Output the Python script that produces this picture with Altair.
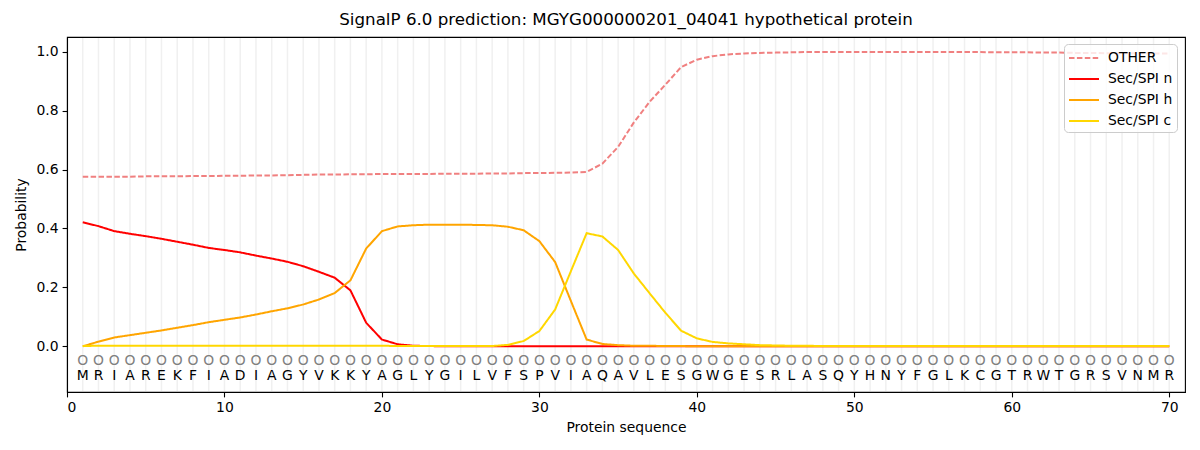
import altair as alt
import pandas as pd

positions = list(range(1, 71))
sequence = "MRIAREKFIADIAGYVKKYAGLYGILVFSPVIAQAVLESGWGESRLASQYHNYFGLKCGTRWTGRSVNMR"

other = [0.576, 0.576, 0.576, 0.576, 0.577, 0.577, 0.577, 0.578, 0.578, 0.579,
         0.579, 0.580, 0.580, 0.581, 0.582, 0.583, 0.583, 0.584, 0.584, 0.585,
         0.585, 0.585, 0.585, 0.586, 0.586, 0.586, 0.587, 0.587, 0.588, 0.588,
         0.589, 0.590, 0.592, 0.620, 0.677, 0.760, 0.830, 0.888, 0.948, 0.973,
         0.985, 0.991, 0.994, 0.996, 0.997, 0.998, 0.999, 0.999, 0.999, 0.999,
         0.999, 0.999, 0.999, 0.999, 0.999, 0.999, 0.999, 0.999, 0.998, 0.998,
         0.998, 0.997, 0.997, 0.996, 0.996, 0.995, 0.995, 0.995, 0.994, 0.994]

sec_n = [0.421, 0.408, 0.391, 0.382, 0.374, 0.365, 0.355, 0.345, 0.334, 0.327,
         0.319, 0.308, 0.298, 0.287, 0.272, 0.253, 0.233, 0.190, 0.080, 0.023,
         0.007, 0.002, 0.001] + [0.0] * 47

sec_h = [0.000, 0.016, 0.030, 0.038, 0.046, 0.054, 0.063, 0.072, 0.082, 0.090,
         0.098, 0.108, 0.119, 0.129, 0.142, 0.159, 0.181, 0.224, 0.332, 0.391,
         0.407, 0.411, 0.413, 0.413, 0.413, 0.412, 0.411, 0.406, 0.394, 0.357,
         0.286, 0.154, 0.023, 0.008, 0.004, 0.002, 0.002, 0.001, 0.001] + [0.0] * 31

sec_c = [0.001, 0.002, 0.002, 0.002, 0.002, 0.002, 0.002, 0.002, 0.002, 0.002,
         0.002, 0.002, 0.002, 0.002, 0.002, 0.002, 0.002, 0.002, 0.002, 0.002,
         0.001, 0.001, 0.001, 0.001, 0.001, 0.001, 0.001, 0.005, 0.018, 0.052,
         0.125, 0.255, 0.384, 0.373, 0.327, 0.247, 0.180, 0.114, 0.053, 0.027,
         0.015, 0.010, 0.007, 0.004, 0.003, 0.002, 0.002, 0.001] + [0.001] * 22

series_names = ["OTHER", "Sec/SPI n", "Sec/SPI h", "Sec/SPI c"]
series_colors = ["#f08080", "#ff0000", "#ffa500", "#ffd700"]
series_dash = [[5.5, 2.4], [1, 0], [1, 0], [1, 0]]

rows = []
for name, vals in zip(series_names, [other, sec_n, sec_h, sec_c]):
    for p, v in zip(positions, vals):
        rows.append({"pos": p, "prob": v, "series": name})
lines_df = pd.DataFrame(rows)
seq_df = pd.DataFrame({"pos": positions, "aa": list(sequence), "circ": ["O"] * len(positions)})

xscale = alt.Scale(domain=[0, 71], nice=False, zero=False)
yscale = alt.Scale(domain=[-0.155, 1.05], nice=False, zero=False)

xaxis = alt.Axis(values=[0, 10, 20, 30, 40, 50, 60, 70], title="Protein sequence", grid=False,
                 labelAngle=0, titlePadding=6)
yaxis = alt.Axis(values=[0.0, 0.2, 0.4, 0.6, 0.8, 1.0], format=".1f", title="Probability", grid=False,
                 titlePadding=8)

grid = alt.Chart(seq_df).mark_rule(color="#f0f0f0", strokeWidth=1.5).encode(
    x=alt.X("pos:Q", scale=xscale, axis=xaxis),
    y=alt.datum(-0.152, scale=yscale),
    y2=alt.datum(1.047),
)

lines = alt.Chart(lines_df).mark_line(strokeWidth=2).encode(
    x=alt.X("pos:Q", scale=xscale, axis=xaxis),
    y=alt.Y("prob:Q", scale=yscale, axis=yaxis),
    color=alt.Color("series:N", scale=alt.Scale(domain=series_names, range=series_colors),
                    legend=alt.Legend(title=None)),
    strokeDash=alt.StrokeDash("series:N", scale=alt.Scale(domain=series_names, range=series_dash),
                              legend=alt.Legend(title=None)),
    order=alt.Order("pos:Q"),
)

circles = alt.Chart(seq_df).mark_text(fontSize=13.9, color="#808080", baseline="middle",
                                      font="DejaVu Sans").encode(
    x=alt.X("pos:Q", scale=xscale),
    y=alt.datum(-0.05),
    text="circ:N",
)

letters = alt.Chart(seq_df).mark_text(fontSize=13.9, color="#000000", baseline="middle",
                                      font="DejaVu Sans").encode(
    x=alt.X("pos:Q", scale=xscale),
    y=alt.datum(-0.10),
    text="aa:N",
)

chart = alt.layer(grid, lines, circles, letters).properties(
    width=1118,
    height=355,
    title=alt.TitleParams("SignalP 6.0 prediction: MGYG000000201_04041 hypothetical protein",
                          fontSize=16.7, fontWeight="normal", font="DejaVu Sans", color="black",
                          anchor="middle", offset=8),
    autosize=alt.AutoSizeParams(type="none"),
    padding={"left": 59, "top": 29, "right": 4, "bottom": 52},
).configure(
    font="DejaVu Sans",
).configure_view(
    stroke="black", strokeWidth=1.1
).configure_axis(
    domainColor="black", domainWidth=1.1, tickColor="black", tickWidth=1.1, tickSize=4.9,
    labelColor="black", labelFontSize=13.9, labelFont="DejaVu Sans", labelPadding=4,
    titleColor="black", titleFontSize=13.9, titleFont="DejaVu Sans", titleFontWeight="normal",
).configure_legend(
    orient="none", legendX=997, legendY=7,
    labelFontSize=13.9, labelFont="DejaVu Sans", labelColor="black",
    symbolType="M-1.667,0H1.667", symbolSize=324, symbolStrokeWidth=2,
    fillColor="rgba(255,255,255,0.8)", strokeColor="#cccccc", cornerRadius=4,
    padding=4, rowPadding=4, labelOffset=14, symbolOffset=6,
)

chart.save("out.html", embed_options={"renderer": "svg", "actions": False})
